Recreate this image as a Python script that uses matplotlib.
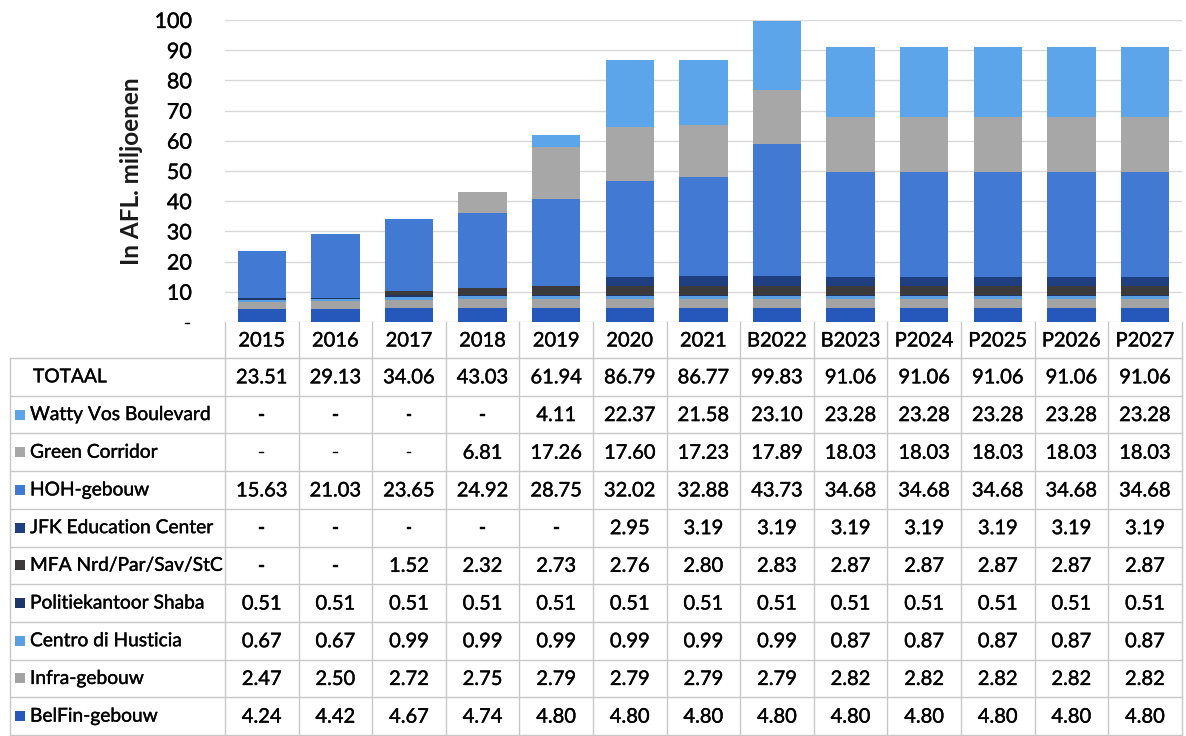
import matplotlib
matplotlib.use("Agg")
import matplotlib.pyplot as plt
from matplotlib.patches import Rectangle
import matplotlib.patheffects as pe

plt.rcParams['font.family'] = ['Lato', 'DejaVu Sans']

# Data
years = ['2015', '2016', '2017', '2018', '2019', '2020', '2021',
         'B2022', 'B2023', 'P2024', 'P2025', 'P2026', 'P2027']
totaal = [23.51, 29.13, 34.06, 43.03, 61.94, 86.79, 86.77, 99.83, 91.06, 91.06, 91.06, 91.06, 91.06]

# stack order bottom -> top
belfin = [4.24, 4.42, 4.67, 4.74, 4.80, 4.80, 4.80, 4.80, 4.80, 4.80, 4.80, 4.80, 4.80]
infra = [2.47, 2.50, 2.72, 2.75, 2.79, 2.79, 2.79, 2.79, 2.82, 2.82, 2.82, 2.82, 2.82]
centro = [0.67, 0.67, 0.99, 0.99, 0.99, 0.99, 0.99, 0.99, 0.87, 0.87, 0.87, 0.87, 0.87]
politie = [0.51] * 13
mfa = [0, 0, 1.52, 2.32, 2.73, 2.76, 2.80, 2.83, 2.87, 2.87, 2.87, 2.87, 2.87]
jfk = [0, 0, 0, 0, 0, 2.95, 3.19, 3.19, 3.19, 3.19, 3.19, 3.19, 3.19]
hoh = [15.63, 21.03, 23.65, 24.92, 28.75, 32.02, 32.88, 43.73, 34.68, 34.68, 34.68, 34.68, 34.68]
green = [0, 0, 0, 6.81, 17.26, 17.60, 17.23, 17.89, 18.03, 18.03, 18.03, 18.03, 18.03]
watty = [0, 0, 0, 0, 4.11, 22.37, 21.58, 23.10, 23.28, 23.28, 23.28, 23.28, 23.28]

series_names = ['BelFin-gebouw', 'Infra-gebouw', 'Centro di Husticia', 'Politiekantoor Shaba',
                'MFA Nrd/Par/Sav/StC', 'JFK Education Center', 'HOH-gebouw',
                'Green Corridor', 'Watty Vos Boulevard']
series_vals = [belfin, infra, centro, politie, mfa, jfk, hoh, green, watty]
series_cols = ['#2657BA', '#A3A3A3', '#5B9FE3', '#1C3768', '#3C3A3A',
               '#1F3F80', '#4279D2', '#A7A7A7', '#5CA5EB']

W, H = 1186, 736
fig = plt.figure(figsize=(W / 100, H / 100), dpi=100)

# a touch of stroke so the text looks as heavy as the scanned original
thick = [pe.withStroke(linewidth=0.3, foreground='#1a1a1a')]
fs = 14.5

# geometry in pixels
x0, colw = 225, 73.6
ncol = len(years)
y_axis0, y_axis100 = 322, 20

ax = fig.add_axes([x0 / W, (H - y_axis0) / H, ncol * colw / W, (y_axis0 - y_axis100) / H])
xs = list(range(ncol))
bottom = [0.0] * ncol
for name, vals, c in zip(series_names, series_vals, series_cols):
    ax.bar(xs, vals, width=0.66, bottom=bottom, color=c, label=name, zorder=3)
    bottom = [b + v for b, v in zip(bottom, vals)]

ax.set_xlim(-0.5, ncol - 0.5)
ax.set_ylim(0, 100)
ax.set_yticks(range(0, 101, 10))
ax.set_yticklabels(['-'] + [str(v) for v in range(10, 101, 10)], fontsize=15.5)
for t in ax.get_yticklabels():
    t.set_path_effects(thick)
ax.set_xticks([])
ax.grid(axis='y', color='#D9D9D9', linewidth=1, zorder=0)
for s in ax.spines.values():
    s.set_visible(False)
ax.tick_params(axis='y', length=0, pad=24)
ax.set_ylabel('In AFL. miljoenen', fontsize=17.5, fontweight='bold', labelpad=8, color='#1a1a1a')

# data table drawn in pixel space
tab = fig.add_axes([0, 0, 1, 1])
tab.set_xlim(0, W)
tab.set_ylim(H, 0)
tab.axis('off')

row_h = 37.7
hdr_top = y_axis0
lab_left = 10
line_c = '#C8C8C8'

# header row (years)
hdr_bot = hdr_top + 36
for i, yr in enumerate(years):
    tab.text(x0 + (i + 0.5) * colw, (hdr_top + hdr_bot) / 2 + 1, yr,
             ha='center', va='center', fontsize=fs, path_effects=thick)
for i in range(ncol + 1):
    tab.plot([x0 + i * colw] * 2, [hdr_top, hdr_bot], color=line_c, lw=1)

row_labels = ['TOTAAL'] + series_names[::-1]
row_vals = [totaal] + series_vals[::-1]
row_cols = [None] + series_cols[::-1]
nrow = len(row_labels)
tbl_bot = hdr_bot + nrow * row_h

for r in range(nrow + 1):
    y = hdr_bot + r * row_h
    tab.plot([lab_left, x0 + ncol * colw], [y, y], color=line_c, lw=1)
tab.plot([lab_left, lab_left], [hdr_bot, tbl_bot], color=line_c, lw=1)
for i in range(ncol + 1):
    tab.plot([x0 + i * colw] * 2, [hdr_bot, tbl_bot], color=line_c, lw=1)

for r, (lab, vals, c) in enumerate(zip(row_labels, row_vals, row_cols)):
    yc = hdr_bot + (r + 0.5) * row_h
    if c is None:
        tab.text(33, yc, lab, ha='left', va='center', fontsize=13.8, path_effects=thick)
    else:
        tab.add_patch(Rectangle((15, yc - 5), 10, 10, facecolor=c, edgecolor='none'))
        tab.text(30, yc, lab, ha='left', va='center', fontsize=13.8, path_effects=thick)
    for i, v in enumerate(vals):
        txt = '-' if v == 0 else f'{v:.2f}'
        tab.text(x0 + (i + 0.5) * colw, yc + 1, txt, ha='center', va='center',
                 fontsize=fs, path_effects=thick)

fig.savefig('out.png', dpi=100, facecolor='white')
